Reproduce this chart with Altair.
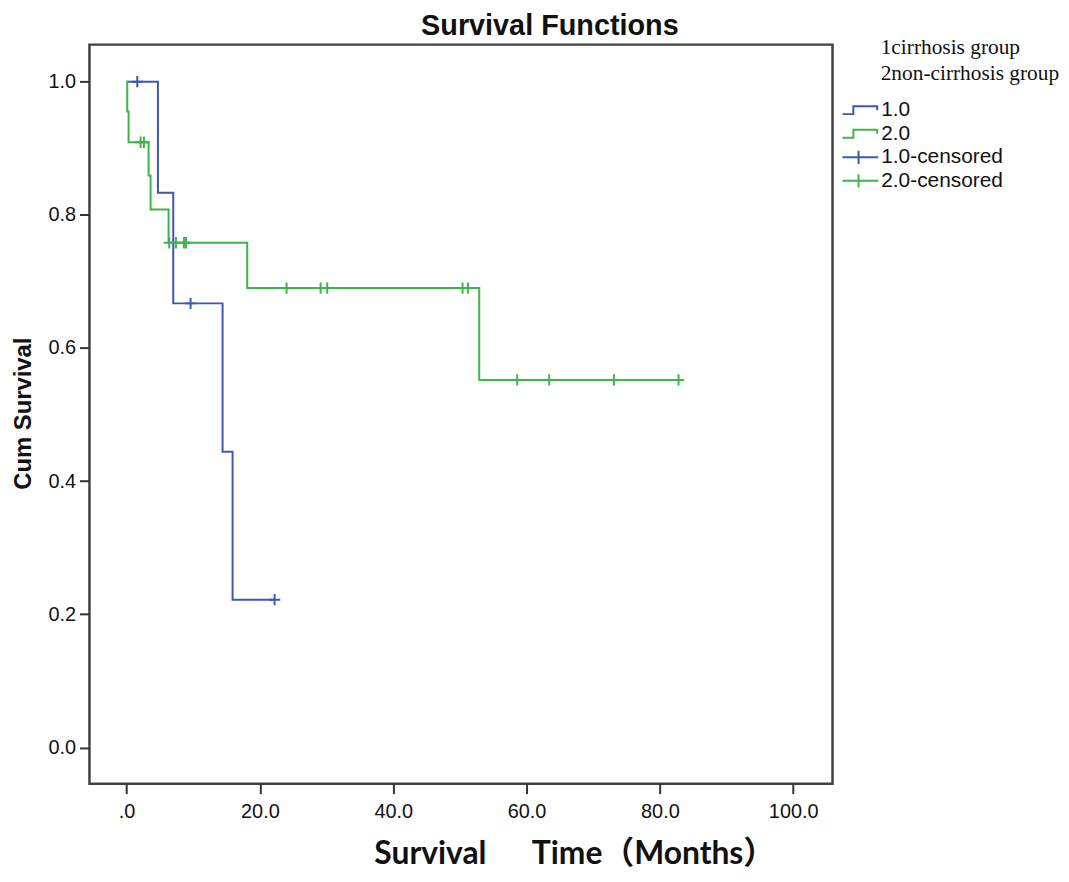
import altair as alt
import pandas as pd

# ---------------- data ----------------
# group 1.0 (cirrhosis) Kaplan-Meier steps
t_steps_1 = [0.0, 4.7, 7.0, 14.4, 15.9, 22.2]
s_steps_1 = [1.0, 0.833, 0.667, 0.444, 0.222, 0.222]
# group 1.0 censored
t_cens_1 = [1.6, 9.6, 22.2]
s_cens_1 = [1.0, 0.667, 0.222]

# group 2.0 (non-cirrhosis) Kaplan-Meier steps
t_steps_2 = [0.0, 0.1, 0.3, 3.3, 3.6, 6.3, 18.1, 52.9, 82.8]
s_steps_2 = [1.0, 0.955, 0.909, 0.859, 0.808, 0.758, 0.690, 0.552, 0.552]
# group 2.0 censored
t_cens_2 = [2.1, 2.6, 6.4, 7.4, 8.6, 8.9, 24.0, 29.1, 30.1, 50.4, 51.2,
            58.6, 63.4, 73.1, 82.8]
s_cens_2 = [0.909, 0.909, 0.758, 0.758, 0.758, 0.758, 0.690, 0.690, 0.690,
            0.690, 0.690, 0.552, 0.552, 0.552, 0.552]

groups = ["1.0", "2.0"]
legend_entries = ["1.0", "2.0", "1.0-censored", "2.0-censored"]
legend_notes = ["1cirrhosis group", "2non-cirrhosis group"]
x_ticks = [0, 20, 40, 60, 80, 100]
y_ticks = [0.0, 0.2, 0.4, 0.6, 0.8, 1.0]
chart_title = "Survival Functions"

BLUE = "#3F58B0"
GREEN = "#3DB54A"
group_colors = [BLUE, GREEN]
legend_colors = [BLUE, GREEN, BLUE, GREEN]

STEP_PATH = "M-1,0.22H-0.39V-0.22H0.94V0"
PLUS_LEGEND = "M-1,0H1M-0.1,-0.37V0.37"
PLUS_PLOT = "M-1,0H1M0,-1V1"

lines_df = pd.DataFrame({
    "t": t_steps_1 + t_steps_2,
    "s": s_steps_1 + s_steps_2,
    "group": ["1.0"] * len(t_steps_1) + ["2.0"] * len(t_steps_2),
})
cens_df = pd.DataFrame({
    "t": t_cens_1 + t_cens_2,
    "s": s_cens_1 + s_cens_2,
    "group": ["1.0"] * len(t_cens_1) + ["2.0"] * len(t_cens_2),
})
legend_df = pd.DataFrame({"entry": legend_entries})
notes_df = pd.DataFrame({"note": legend_notes})

x_scale = alt.Scale(domain=[-5.57, 105.9], nice=False, zero=False)
y_scale = alt.Scale(domain=[-0.0544, 1.0556], nice=False, zero=False)

x_axis = alt.Axis(
    orient="bottom",
    values=x_ticks, domain=False, grid=False,
    labelExpr="datum.value == 0 ? '.0' : format(datum.value, '.1f')",
    tickSize=10, tickWidth=2, tickColor="#333333",
    labelFont="Liberation Sans", labelFontSize=20, labelColor="#111111",
    labelPadding=8,
    title="Survival\u00a0\u00a0\u00a0\u00a0\u00a0\u00a0Time\uff08Months\uff09",
    titleFont="Lato, Noto Sans CJK SC", titleFontSize=32, titleFontWeight="bold",
    titleColor="#111111", titleX=488, titleY=80, titleBaseline="alphabetic",
    titleAnchor="middle", titleAlign="center",
)
# top axis carries only the chart title
title_axis = alt.Axis(
    orient="top", domain=False, grid=False, ticks=False, labels=False,
    title=chart_title, titleFont="Liberation Sans", titleFontSize=29,
    titleFontWeight="bold", titleColor="#111111",
    titleX=463, titleY=-10, titleBaseline="alphabetic",
    titleAnchor="middle", titleAlign="center",
)
y_axis = alt.Axis(
    values=y_ticks, format=".1f", domain=False, grid=False,
    tickSize=10, tickWidth=2, tickColor="#333333",
    labelFont="Liberation Sans", labelFontSize=20, labelColor="#111111",
    labelPadding=4,
    title="Cum Survival", titleFont="Liberation Sans", titleFontSize=24,
    titleFontWeight="bold", titleColor="#111111",
    titleX=-66, titleY=371, titleAngle=270, titleBaseline="middle",
    titleAlign="center",
)

stroke_scale = alt.Scale(domain=groups, range=group_colors)

lines = alt.Chart(lines_df).mark_line(interpolate="step-after", strokeWidth=2).encode(
    x=alt.X("t:Q", scale=x_scale, axis=x_axis),
    y=alt.Y("s:Q", scale=y_scale, axis=y_axis),
    stroke=alt.Stroke("group:N", scale=stroke_scale, legend=None),
    detail="group:N",
)

censors = alt.Chart(cens_df).mark_point(filled=False, strokeWidth=2, opacity=1).encode(
    x=alt.X("t:Q", scale=x_scale, axis=title_axis),
    y=alt.Y("s:Q", scale=y_scale, axis=y_axis),
    stroke=alt.Stroke("group:N", scale=stroke_scale, legend=None),
    shape=alt.value(PLUS_PLOT),
    size=alt.value(130),
)

entries_kw = dict(
    orient="none", legendX=757, legendY=55, padding=0,
    labelFont="Liberation Sans", labelFontSize=21, labelColor="#111111",
    labelOffset=2, symbolSize=1296, symbolStrokeWidth=2,
    symbolOpacity=1, clipHeight=22, rowPadding=1.7, labelLimit=300,
)

entries_layer = alt.Chart(legend_df).mark_point(filled=False, opacity=0).encode(
    color=alt.Color("entry:N", title=None,
                    scale=alt.Scale(domain=legend_entries, range=legend_colors),
                    legend=alt.Legend(**entries_kw)),
    shape=alt.Shape("entry:N", title=None,
                    scale=alt.Scale(domain=legend_entries,
                                    range=[STEP_PATH, STEP_PATH, PLUS_LEGEND, PLUS_LEGEND]),
                    legend=alt.Legend(**entries_kw)),
)

notes_layer = alt.Chart(notes_df).mark_point(filled=True, opacity=0).encode(
    fill=alt.Fill("note:N", title=None,
                  scale=alt.Scale(domain=legend_notes, range=["#000000", "#000000"]),
                  legend=alt.Legend(
                      orient="none", legendX=775, legendY=-7.5, padding=0,
                      labelFont="Liberation Serif", labelFontSize=21.5,
                      labelColor="#111111", labelOffset=0, labelLimit=400,
                      symbolSize=0, symbolOpacity=0, symbolStrokeWidth=0,
                      clipHeight=22, rowPadding=3.8,
                  )),
)

chart = alt.layer(lines, censors, entries_layer, notes_layer).properties(
    width=748, height=744,
    padding={"left": 82, "top": 34, "right": 230, "bottom": 84},
    autosize=alt.AutoSizeParams(type="none"),
    background="white",
).configure_view(
    fill="#F0F0F0", stroke="#404040", strokeWidth=2.5,
)

chart.save("out.html", embed_options={"renderer": "svg", "actions": False})
